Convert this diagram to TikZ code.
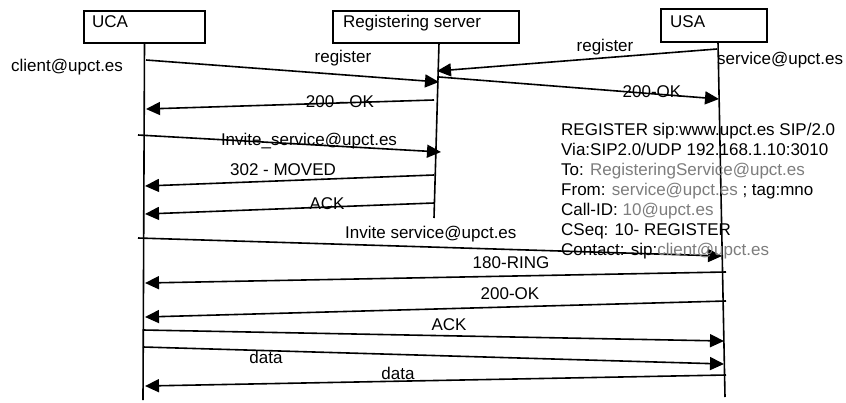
\documentclass[tikz,border=0pt]{standalone}
\usepackage{fontspec}
\setmainfont{Liberation Sans}
\usetikzlibrary{arrows.meta}
\definecolor{addr}{RGB}{125,125,125}
\begin{document}
\begin{tikzpicture}[x=1pt,y=-1pt,
  actorbox/.style={draw,line width=1.6pt,inner sep=0pt},
  lbl/.style={inner sep=0pt,font=\fontsize{17}{20}\selectfont},
  life/.style={line width=1.6pt},
  msg/.style={line width=1.6pt,-{Triangle[length=14pt,width=13pt]}}]
\useasboundingbox (0,0) rectangle (846,402);
\fill[white] (0,0) rectangle (846,402);
% actor boxes
\node[actorbox,minimum width=121pt,minimum height=32pt] (uca) at (144.5,27) {};
\node[actorbox,minimum width=186pt,minimum height=32pt] (srv) at (426,27) {};
\node[actorbox,minimum width=106pt,minimum height=33pt] (usa) at (714,25.5) {};
\node[lbl,anchor=base west] (ucat) at (92,27) {UCA};
\node[lbl,anchor=base west] (srvt) at (343,27) {Registering server};
\node[lbl,anchor=base west] (usat) at (670,27) {USA};
% lifelines
\coordinate (ucatop) at (144.5,43);
\coordinate (ucabot) at (143,400);
\coordinate (srvtop) at (439,43);
\coordinate (srvbot) at (434,218);
\coordinate (usatop) at (718,42);
\coordinate (usabot) at (725,397);
\draw[life] (ucatop) -- (ucabot);
\draw[life] (srvtop) -- (srvbot);
\draw[life] (usatop) -- (usabot);
% message end points
\coordinate (a1s) at (146,60);   \coordinate (a1e) at (439,82);
\coordinate (a2s) at (717,49);   \coordinate (a2e) at (437,71);
\coordinate (a3s) at (439,77);   \coordinate (a3e) at (719,99);
\coordinate (a4s) at (434,100);  \coordinate (a4e) at (146,109);
\coordinate (a5s) at (138,135);  \coordinate (a5e) at (441,152);
\coordinate (a6s) at (434,175);  \coordinate (a6e) at (145,186);
\coordinate (a7s) at (434,203);  \coordinate (a7e) at (145,214);
\coordinate (a8s) at (138,238);  \coordinate (a8e) at (722,256);
\coordinate (a9s) at (726,272);  \coordinate (a9e) at (145,283);
\coordinate (a10s) at (726,301); \coordinate (a10e) at (145,317);
\coordinate (a11s) at (143,330); \coordinate (a11e) at (724,341);
\coordinate (a12s) at (143,347); \coordinate (a12e) at (724,364);
\coordinate (a13s) at (726,375); \coordinate (a13e) at (145,386);
\foreach \i in {1,...,13} {\draw[msg] (a\i s) -- (a\i e);}
% labels
\node[lbl,anchor=base west] (cli) at (11,71) {client@upct.es};
\node[lbl,anchor=base] (l1) at (343,62) {register};
\node[lbl,anchor=base] (l2) at (605,51) {register};
\node[lbl,anchor=base west] (svc) at (717,64) {service@upct.es};
\node[lbl,anchor=base] (l3) at (652,97) {200-OK};
\node[lbl,anchor=base] (l4) at (340,107) {200 - OK};
\node[lbl,anchor=base] (l5) at (309,145) {Invite\_service@upct.es};
\node[lbl,anchor=base] (l6) at (283,175) {302 - MOVED};
\node[lbl,anchor=base] (l7) at (327,209) {ACK};
\node[lbl,anchor=base west] (l8) at (345,238) {Invite service@upct.es};
\node[lbl,anchor=base] (l9) at (511,268) {180-RING};
\node[lbl,anchor=base] (l10) at (510,299) {200-OK};
\node[lbl,anchor=base] (l11) at (449,330) {ACK};
\node[lbl,anchor=base] (l12) at (266,363) {data};
\node[lbl,anchor=base] (l13) at (398,379) {data};
% SIP message text
\node[lbl,anchor=base west] (t1) at (561,135) {REGISTER sip:www.upct.es SIP/2.0};
\node[lbl,anchor=base west] (t2) at (561,155) {Via:SIP2.0/UDP 192.168.1.10:3010};
\node[lbl,anchor=base west] (t3) at (561,175) {To: \textcolor{addr}{RegisteringService@upct.es}};
\node[lbl,anchor=base west] (t4) at (561,195) {From: \textcolor{addr}{service@upct.es} ; tag:mno};
\node[lbl,anchor=base west] (t5) at (561,215) {Call-ID: \textcolor{addr}{10@upct.es}};
\node[lbl,anchor=base west] (t6) at (561,235) {CSeq: 10- REGISTER};
\node[lbl,anchor=base west] (t7) at (561,255) {Contact: sip:\textcolor{addr}{client@upct.es}};
\end{tikzpicture}
\end{document}
